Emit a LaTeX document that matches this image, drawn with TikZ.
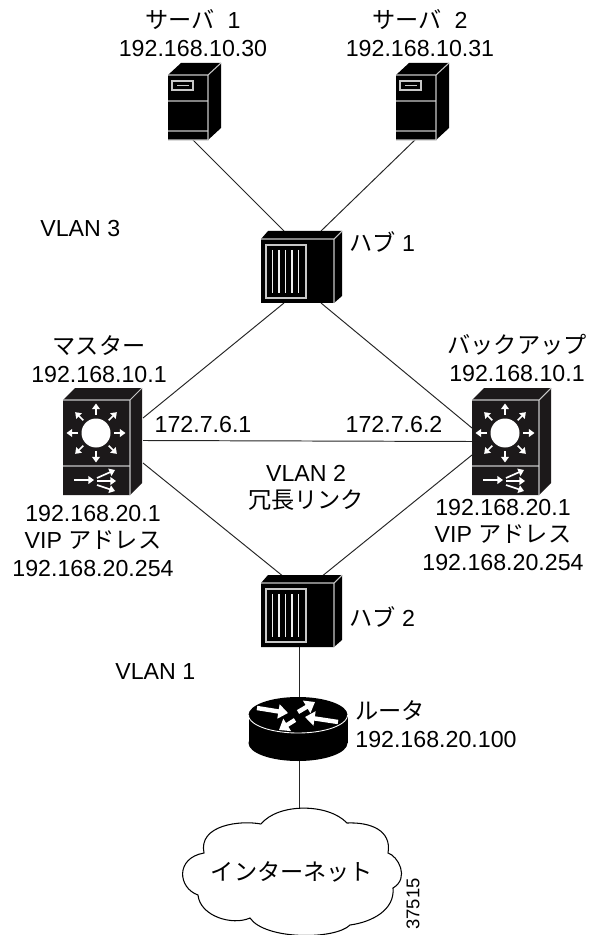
\documentclass[tikz,border=0pt]{standalone}
\usepackage{fontspec}
\setmainfont{Liberation Sans}
\newfontfamily\jp{Noto Sans CJK JP}
\usepackage{tikz}
\usetikzlibrary{arrows.meta}
\definecolor{hubblack}{HTML}{000000}
\definecolor{switchblack}{HTML}{1C191A}
\definecolor{edgegray}{HTML}{C8C8C8}

\begin{document}
\begin{tikzpicture}[x=0.02cm,y=-0.02cm,
	label/.style = {font=\fontsize{13.2}{15.6}\selectfont, align=center, inner sep=0pt},
	leftlabel/.style = {label, anchor=west, align=left},
	link/.style = {line width=0.55pt, black!85},
	linkbox/.style 2 args = {minimum width=#1*0.02cm, minimum height=#2*0.02cm, inner sep=0pt, outer sep=0pt},
	edge/.style = {edgegray, line width=0.6pt},
	swarrow/.style = {white, line width=0.95pt, -{Triangle[length=3.2pt,width=4.4pt]}},
	rtarrow/.style = {white, line width=2.5pt, -{Triangle[length=5.5pt,width=8pt]}},
	pics/hubpic/.style = {code={
		\fill[hubblack] (0,0) -- (7,-8) -- (81,-8) -- (81,57) -- (73,64) -- (0,64) -- cycle;
		\draw[edge] (0,0) -- (73,0) -- (73,64) (73,0) -- (81,-8);
		\draw[edge] (5,6) rectangle (45,59);
		\foreach \i in {11.5,18,24.5,31,37.5}
			\draw[edge, white!70!edgegray] (\i,11) -- (\i,54);
	}},
	pics/switchpic/.style = {code={
		\fill[switchblack] (0,0) -- (12,-12) -- (79,-12) -- (79,83) -- (67,95) -- (0,95) -- cycle;
		\draw[edge] (0,0) -- (67,0) -- (67,95) (67,0) -- (79,-12) (0,66) -- (67,66);
		\fill[white] (33,33) circle [radius=14.5];
		\foreach \a in {0,45,...,315}
			\draw[swarrow] ({33+18*cos(\a)},{33+18*sin(\a)}) -- ({33+29.5*cos(\a)},{33+29.5*sin(\a)});
		\draw[swarrow] (11,80) -- (31,80);
		\draw[swarrow] (34,78) -- (52,70);
		\draw[swarrow] (34,81) -- (53,81);
		\draw[swarrow] (34,85) -- (52,91);
	}},
	pics/serverpic/.style = {code={
		\fill[hubblack] (0,0) -- (13,-12) -- (53,-12) -- (53,53) -- (40,65) -- (0,65) -- cycle;
		\draw[edge] (0,0) -- (40,0) -- (40,65) -- (0,65) (40,0) -- (53,-12) (0,26) -- (40,26) (0,56) -- (40,56);
		\draw[edge] (4,6) rectangle (25,15) (9,10.5) -- (21,10.5);
	}},
	pics/routerpic/.style = {code={
		\fill[hubblack] (0,0) ellipse [x radius=49.5, y radius=18];
		\fill[hubblack] (0,28) ellipse [x radius=49.5, y radius=18];
		\fill[hubblack] (-49.5,0) rectangle (49.5,28);
		\draw[white, line width=0.5pt] plot[domain=0:180, samples=40] ({49.5*cos(\x)},{18*sin(\x)});
		\draw[rtarrow] (-41,-7) -- (-10,-2);
		\draw[rtarrow] (0,-3) -- (17,-13);
		\draw[rtarrow] (40,7) -- (7,2);
		\draw[rtarrow] (-3,5) -- (-19,15);
	}}]
	\useasboundingbox (0,0) rectangle (590,935);

	\node[linkbox={20}{60}] (serverone) at (190,107) {};
	\node[linkbox={20}{60}] (servertwo) at (418,107) {};
	\node[linkbox={37}{72}] (hubone) at (302.5,267) {};
	\node[linkbox={37}{70}] (hubtwo) at (302.5,612) {};
	\node[linkbox={80}{45}] (master) at (103,440.5) {};
	\node[linkbox={80}{27}] (backup) at (512,441.5) {};
	\node[linkbox={99}{64}] (router) at (299,729) {};
	\coordinate (cloudtop) at (299,809);

	\draw[link] (serverone.south) -- (hubone.north west);
	\draw[link] (servertwo.south) -- (hubone.north east);
	\draw[link] (hubone.south west) -- (master.north east);
	\draw[link] (hubone.south east) -- (backup.north west);
	\draw[link] (master.east) -- (backup.west);
	\draw[link] (master.south east) -- (hubtwo.north west);
	\draw[link] (backup.south west) -- (hubtwo.north east);
	\draw[link] (hubtwo.south -| router.north) -- (router.north);
	\draw[link] (router.south) -- (cloudtop);

	\pic at (168,75) {serverpic};
	\pic at (396,75) {serverpic};
	\pic at (261,239) {hubpic};
	\pic at (261,583) {hubpic};
	\pic at (63,400) {switchpic};
	\pic at (472,400) {switchpic};
	\pic at (298,715) {routerpic};

	\draw[line width=0.6pt] (261,824) .. controls (278,803) and (328,803) .. (347,823)
		.. controls (370,822) and (392,830) .. (388,853)
		.. controls (398,856) and (410,878) .. (393,888)
		.. controls (395,910) and (372,922) .. (350,925)
		.. controls (335,940) and (265,940) .. (250,918)
		.. controls (232,926) and (200,916) .. (198,895)
		.. controls (178,888) and (175,858) .. (204,853)
		.. controls (198,825) and (240,820) .. (261,824);

	\node[label] (serveronelabel) at (193,33) {{\jp サーバ}\ \ 1\\192.168.10.30};
	\node[label] (servertwolabel) at (420,33) {{\jp サーバ}\ \ 2\\192.168.10.31};
	\node[leftlabel] (vlanthree) at (40,229) {VLAN 3};
	\node[leftlabel] (hubonelabel) at (349,242) {{\jp ハブ} 1};
	\node[label] (masterlabel) at (99,359) {{\jp マスター}\\192.168.10.1};
	\node[label] (backuplabel) at (517,358) {{\jp バックアップ}\\192.168.10.1};
	\node[label] (masterip) at (203,425) {172.7.6.1};
	\node[label] (backupip) at (394,425) {172.7.6.2};
	\node[label] (vlantwo) at (306,488) {VLAN 2\\{\jp 冗長リンク}};
	\node[label] (mastervip) at (93,541) {192.168.20.1\\VIP {\jp アドレス}\\192.168.20.254};
	\node[label] (backupvip) at (503,535) {192.168.20.1\\VIP {\jp アドレス}\\192.168.20.254};
	\node[leftlabel] (hubtwolabel) at (349,617) {{\jp ハブ} 2};
	\node[leftlabel] (vlanone) at (115,672) {VLAN 1};
	\node[leftlabel] (routerlabel) at (355,724) {{\jp ルータ}\\192.168.20.100};
	\node[inner sep=0pt, font=\fontsize{13.2}{16}\selectfont\jp] (internet) at (292,872) {インターネット};
	\node[inner sep=0pt, rotate=90, font=\fontsize{10.5}{13}\selectfont] (figid) at (413,904) {37515};
\end{tikzpicture}
\end{document}
